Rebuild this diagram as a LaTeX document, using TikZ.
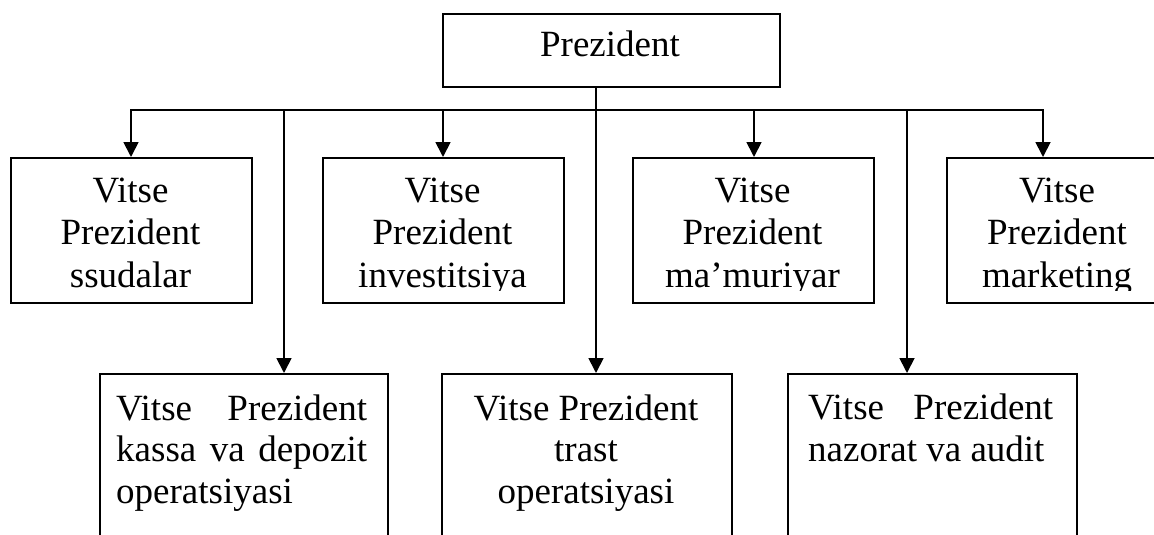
\documentclass[tikz,border=0pt]{standalone}
\usepackage{fontspec}
\setmainfont{Liberation Serif}
\usetikzlibrary{arrows.meta}
\begin{document}
\begin{tikzpicture}[x=1pt,y=-1pt,
  box/.style={draw,line width=1.6pt,inner sep=0pt,anchor=north west},
  topbox/.style={box,minimum height=145pt},
  lowbox/.style={box,minimum height=200pt},
  lbl/.style={inner sep=0pt,font=\fontsize{37}{42.5}\selectfont,anchor=base},
  lowlbl/.style={inner sep=0pt,font=\fontsize{37}{41.5}\selectfont},
  conn/.style={line width=1.8pt,line join=miter},
  arr/.style={conn,-{Triangle[length=15pt,width=15pt]}}]
\useasboundingbox (0,0) rectangle (1154,535);
\clip (0,0) rectangle (1154,535);
% boxes
\node[box,minimum width=337pt,minimum height=73pt] (pres) at (442,13) {};
\node[topbox,minimum width=241pt] (b1) at (10,157) {};
\node[topbox,minimum width=241pt] (b2) at (322,157) {};
\node[topbox,minimum width=241pt] (b3) at (632,157) {};
\node[topbox,minimum width=222pt] (b4) at (946,157) {};
\node[lowbox,minimum width=288pt] (b5) at (99,373) {};
\node[lowbox,minimum width=290pt] (b6) at (441,373) {};
\node[lowbox,minimum width=289pt] (b7) at (787,373) {};
% texts (base anchor = baseline of the last line)
\node[lbl] (tp) at (610,57) {Prezident};
\begin{scope}
\clip (0,157) rectangle (1154,290);
\node[lbl,align=center] (t1) at (130.5,287) {Vitse\\Prezident\\ssudalar};
\node[lbl,align=center] (t2) at (442.5,287) {Vitse\\Prezident\\investitsiya};
\node[lbl,align=center] (t3) at (752.5,287) {Vitse\\Prezident\\ma’muriyar};
\node[lbl,align=center] (t4) at (1057,287) {Vitse\\Prezident\\marketing};
\end{scope}
\node[lowlbl,align=left,anchor=base west] (t5) at (116,503)
  {\makebox[251pt][s]{Vitse Prezident}\\\makebox[251pt][s]{kassa va depozit}\\operatsiyasi};
\node[lowlbl,align=center,anchor=base] (t6) at (586,503)
  {Vitse Prezident\\trast\\operatsiyasi};
\node[lowlbl,align=left,anchor=base west] (t7) at (808,461)
  {\makebox[245pt][s]{Vitse Prezident}\\nazorat va audit};
% connectors
\coordinate (j1) at (131,110);
\coordinate (j2) at (284,110);
\coordinate (j3) at (443,110);
\coordinate (j4) at (596,110);
\coordinate (j5) at (754,110);
\coordinate (j6) at (907,110);
\coordinate (j7) at (1043,110);
\draw[arr] (j4) -- (j1) -- (j1 |- b1.north);
\draw[arr] (j4) -- (j7) -- (j7 |- b4.north);
\draw[arr] (j3) -- (j3 |- b2.north);
\draw[arr] (j5) -- (j5 |- b3.north);
\draw[arr] (j2) -- (j2 |- b5.north);
\draw[arr] (j6) -- (j6 |- b7.north);
\draw[arr] (pres.south -| j4) -- (j4 |- b6.north);
\end{tikzpicture}
\end{document}
